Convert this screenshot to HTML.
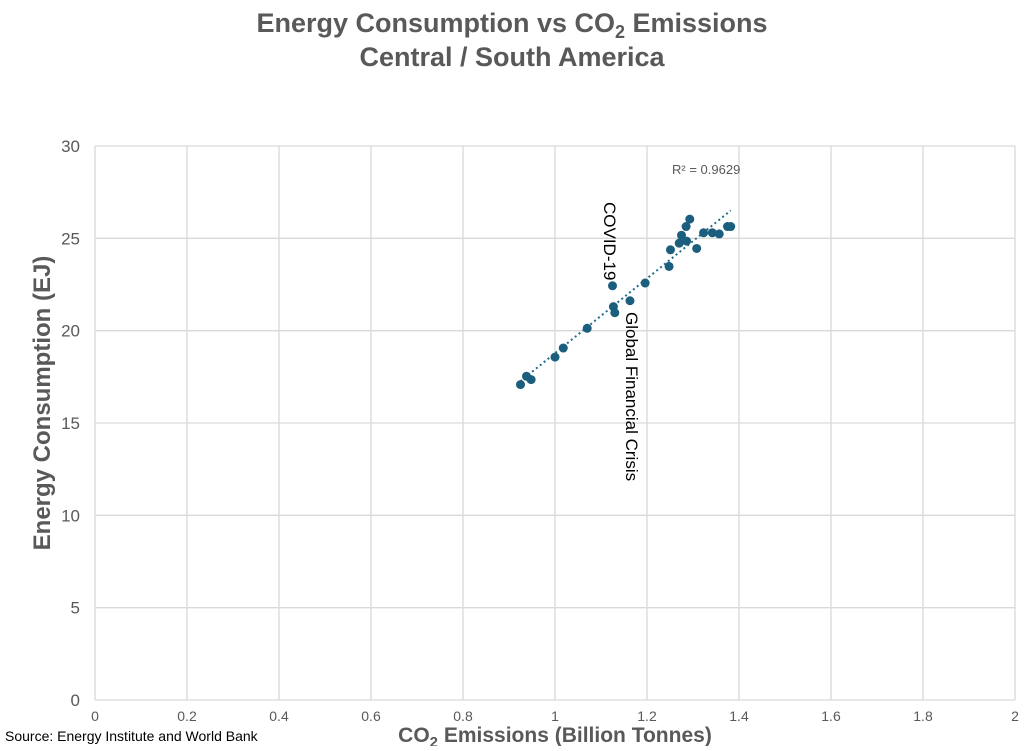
<!DOCTYPE html>
<html><head><meta charset="utf-8"><style>
html,body{margin:0;padding:0;background:#fff;}
body{width:1024px;height:746px;overflow:hidden;font-family:"Liberation Sans",sans-serif;}
</style></head><body>
<svg width="1024" height="746" xmlns="http://www.w3.org/2000/svg" font-family="Liberation Sans, sans-serif">
<text x="512" y="32" text-anchor="middle" font-size="27" font-weight="bold" fill="#595959">Energy Consumption vs CO<tspan font-size="18" dy="6">2</tspan><tspan dy="-6"> Emissions</tspan></text>
<text x="512" y="66" text-anchor="middle" font-size="27" font-weight="bold" fill="#595959">Central / South America</text>
<g id="grid"></g>
<g id="axes"></g>
<g id="trend"></g>
<g id="pts"></g>
<text x="672" y="174" font-size="13" fill="#595959">R² = 0.9629</text>
<text transform="translate(604,202) rotate(90)" font-size="17" fill="#000">COVID-19</text>
<text transform="translate(626,312) rotate(90)" font-size="17" fill="#000">Global Financial Crisis</text>
<text transform="translate(50,403) rotate(-90)" text-anchor="middle" font-size="24" font-weight="bold" fill="#595959">Energy Consumption (EJ)</text>
<text x="555" y="742" text-anchor="middle" font-size="21" font-weight="bold" fill="#595959">CO<tspan font-size="15" dy="5">2</tspan><tspan dy="-5"> Emissions (Billion Tonnes)</tspan></text>
<text x="5" y="741" font-size="14" fill="#000">Source: Energy Institute and World Bank</text>
</svg>
<script>
const xVals=[0.925,0.938,0.948,1.0,1.018,1.070,1.125,1.127,1.130,1.163,1.196,1.248,1.251,1.270,1.275,1.286,1.285,1.293,1.308,1.323,1.342,1.357,1.375,1.382];
const yVals=[17.08,17.53,17.35,18.57,19.06,20.13,22.43,21.3,20.97,21.62,22.58,23.48,24.38,24.74,25.17,24.85,25.64,26.04,24.45,25.3,25.3,25.24,25.64,25.64];
const xTicks=[0,0.2,0.4,0.6,0.8,1,1.2,1.4,1.6,1.8,2];
const yTicks=[0,5,10,15,20,25,30];
const L=95,R=1015,T=146,B=700;
const sx=v=>L+(v-0)/2*(R-L), sy=v=>B-(v/30)*(B-T);
const NS="http://www.w3.org/2000/svg";
function mk(tag,attrs,parent){const e=document.createElementNS(NS,tag);for(const k in attrs)e.setAttribute(k,attrs[k]);parent.appendChild(e);return e;}
const grid=document.getElementById('grid'),axes=document.getElementById('axes');
xTicks.forEach(t=>{
 const l=mk('line',{x1:sx(t),x2:sx(t),y1:T,y2:B,stroke:'#d9d9d9','stroke-width':1.3},grid);
 
 
 const tx=mk('text',{x:sx(t),y:721,'text-anchor':'middle','font-size':14,fill:'#595959'},axes);
 tx.textContent=String(t);
 
 
});
yTicks.forEach(t=>{
 const l=mk('line',{x1:L,x2:R,y1:sy(t),y2:sy(t),stroke:'#d9d9d9','stroke-width':1.3},grid);
 
 
 const tx=mk('text',{x:80,y:sy(t)+6,'text-anchor':'end','font-size':17,fill:'#595959'},axes);
 tx.textContent=String(t);
 
 
});
const n=xVals.length;let mx=0,my=0;xVals.forEach((x,i)=>{mx+=x;my+=yVals[i];});mx/=n;my/=n;
let sxy=0,sxx=0;xVals.forEach((x,i)=>{sxy+=(x-mx)*(yVals[i]-my);sxx+=(x-mx)*(x-mx);});
const slope=sxy/sxx,icpt=my-slope*mx;
const x0=Math.min(...xVals),x1=Math.max(...xVals);
const tl=mk('line',{x1:sx(x0),y1:sy(slope*x0+icpt),x2:sx(x1),y2:sy(slope*x1+icpt),stroke:'#1f6f8b','stroke-width':2,'stroke-dasharray':'2 3'},document.getElementById('trend'));


const pts=document.getElementById('pts');
xVals.forEach((x,i)=>{
 const c=mk('circle',{cx:sx(x),cy:sy(yVals[i]),r:4.5,fill:'#1b5e7e'},pts);
 
 
});
</script>
</body></html>
